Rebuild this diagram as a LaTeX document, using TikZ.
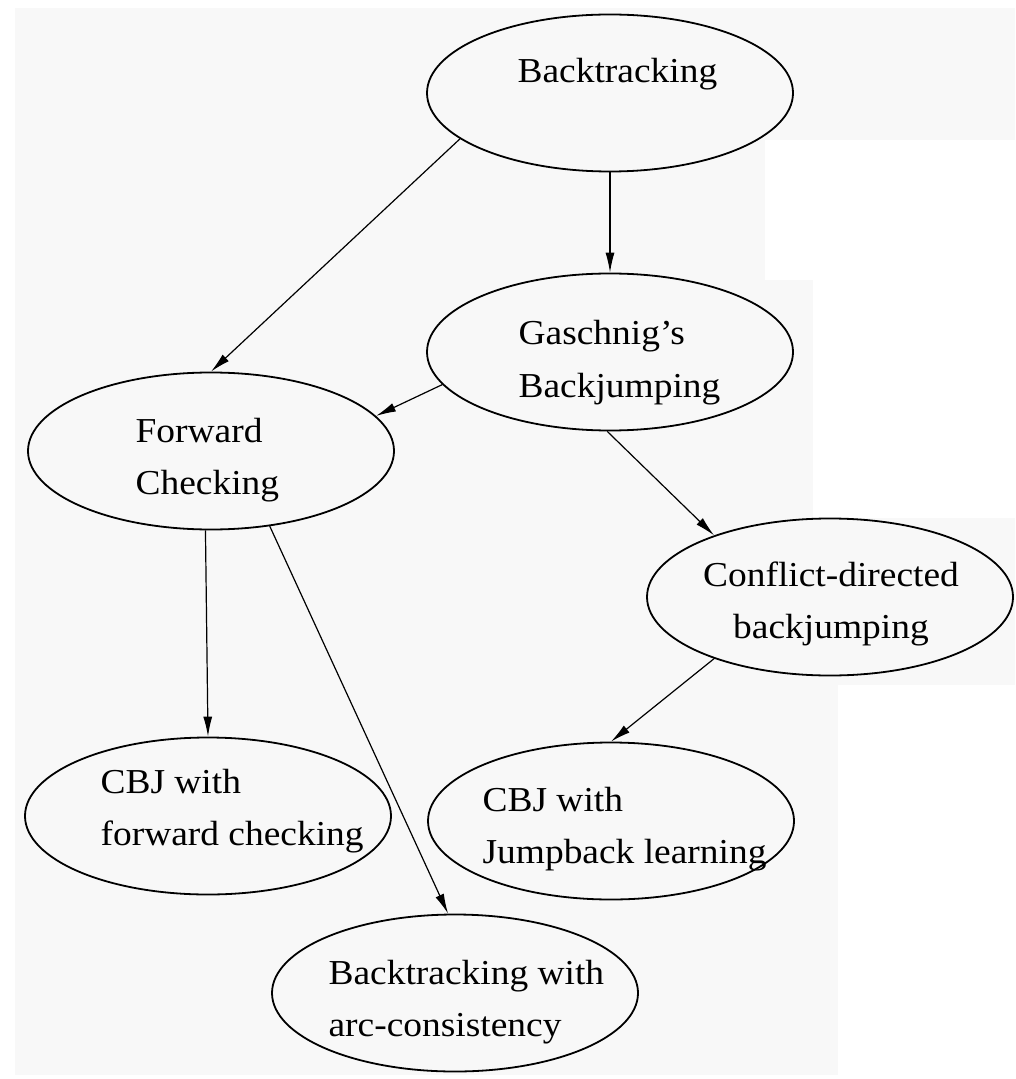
\documentclass[tikz,border=0pt]{standalone}
\usepackage{fontspec}
\setmainfont{Liberation Serif}[FakeStretch=1.07]
\usetikzlibrary{shapes.geometric,arrows.meta}
\definecolor{paper}{RGB}{248,248,248}

\begin{document}
\begin{tikzpicture}[x=0.5pt,y=-0.5pt,line width=0.6pt,
algo/.style={draw,ellipse,line width=0.9pt,minimum width=183pt,minimum height=78.5pt,inner sep=0pt},
lbl/.style={anchor=base west,align=left,inner sep=0pt,font=\fontsize{17.5}{26}\selectfont},
>={Latex[length=10pt,width=4.5pt]}]
\useasboundingbox (0,0) rectangle (1015,1079);
% scanned page
\fill[white] (0,0) rectangle (1015,1079);
\fill[paper] (15,8) rectangle (1015,1075);
\fill[white] (765,140) rectangle (1015,280);
\fill[white] (813,280) rectangle (1015,518);
\fill[white] (838,685) rectangle (1015,1075);

\node[algo] (bt) at (610,93) {};
\node[algo] (gj) at (610,352) {};
\node[algo] (fc) at (211,451) {};
\node[algo] (cdb) at (830,597) {};
\node[algo] (cbjfc) at (208,816) {};
\node[algo] (cbjjl) at (611,821) {};
\node[algo] (btac) at (455,993) {};

% base anchor = baseline of the last line
\node[lbl] (bt-txt) at (517,83) {Backtracking};
\node[lbl] (gj-txt) at (518,397) {Gaschnig's\\Backjumping};
\node[lbl] (fc-txt) at (135,494) {Forward\\Checking};
\node[lbl,anchor=base,align=center] (cdb-txt) at (831,638) {Conflict-directed\\backjumping};
\node[lbl] (cbjfc-txt) at (100,845) {CBJ with\\forward checking};
\node[lbl] (cbjjl-txt) at (482,863) {CBJ with\\Jumpback learning};
\node[lbl] (btac-txt) at (328,1036) {Backtracking with\\arc-consistency};

\path[->] (bt) edge (gj);
\path[->] (bt.197) edge (fc.north);
\path[->] (gj.191) edge (fc.12);
\path[->] (gj.268) edge (cdb.152);
\path[->] (cdb.208) edge (cbjjl.north);
\path[->] (fc.266) edge (cbjfc.north);
\path[->] (fc.308) edge (btac.95);
\end{tikzpicture}
\end{document}
